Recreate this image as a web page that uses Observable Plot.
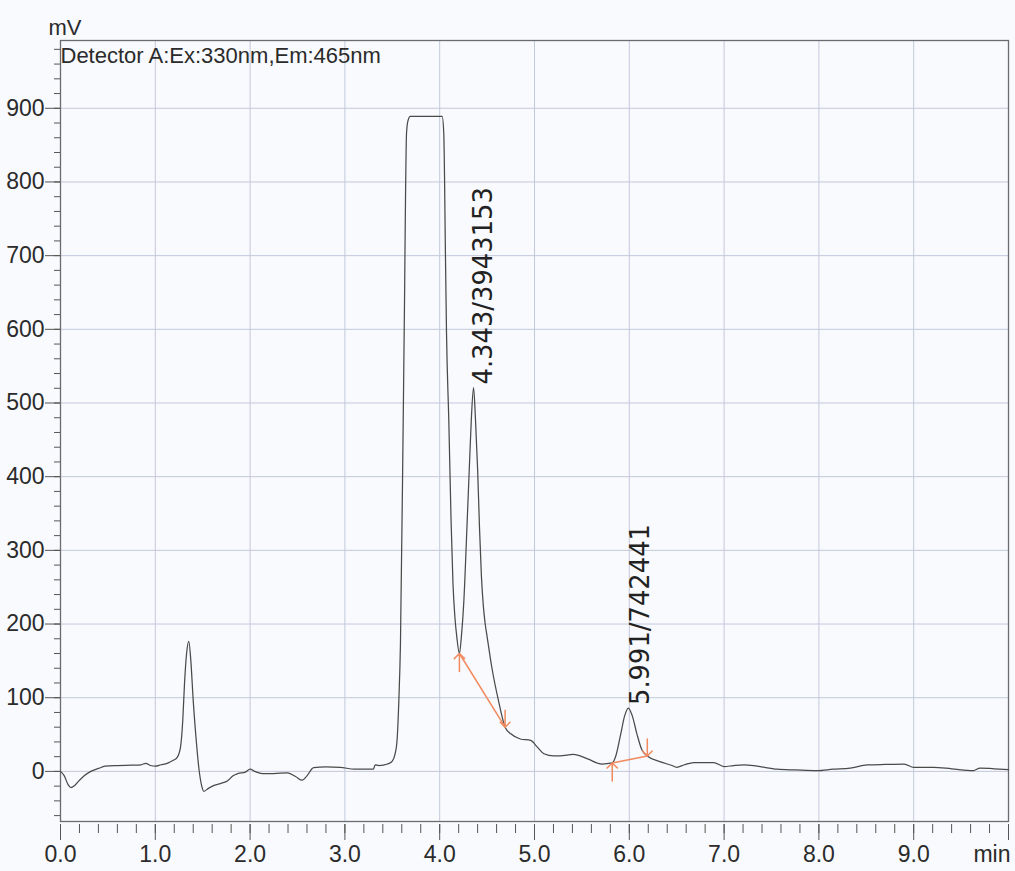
<!DOCTYPE html>
<html><head><meta charset="utf-8">
<script src="https://cdn.jsdelivr.net/npm/d3@7"></script>
<script src="https://cdn.jsdelivr.net/npm/@observablehq/plot@0.6"></script>
<style>
html,body{margin:0;padding:0;background:#f8fafd;}
#chart{width:1015px;height:871px;overflow:hidden;}
#chart svg{display:block;}
</style></head><body><div id="chart"></div>
<script>
// Chromatogram trace (retention time in min, signal in mV)
const time = [
  0.00,0.04,0.08,0.11,0.15,0.20,0.25,0.32,0.40,0.47,0.60,0.75,0.85,0.90,0.95,1.00,1.06,1.125,1.19,1.231,
  1.266,1.29,1.308,1.33,1.353,1.375,1.40,1.43,1.459,1.49,1.512,1.56,1.62,1.70,1.76,1.82,1.87,1.95,2.00,2.05,
  2.13,2.25,2.39,2.48,2.55,2.60,2.67,2.80,2.95,3.10,3.30,3.32,3.36,3.45,3.50,3.53,3.55,3.569,3.586,3.615,
  3.629,3.639,3.65,3.665,3.69,3.85,4.026,4.043,4.061,4.072,4.096,4.12,4.14,4.16,4.18,4.208,4.23,4.255,4.29,4.315,
  4.333,4.357,4.378,4.40,4.42,4.44,4.46,4.48,4.50,4.55,4.62,4.69,4.75,4.85,4.96,5.03,5.10,5.20,5.27,5.41,5.56,
  5.71,5.82,5.86,5.91,5.95,5.99,6.03,6.08,6.13,6.19,6.33,6.45,6.50,6.58,6.68,6.89,7.00,7.10,7.21,7.35,
  7.56,7.75,7.98,8.15,8.33,8.51,8.70,8.90,9.00,9.21,9.40,9.63,9.70,9.85,10.00
];
const signal = [
  0,-6,-18,-22,-19,-12,-6,0,4,7,8,8.5,9,11,8,7,9,11,15,19,
  33,70,119,160,176.5,150,96,45,5,-20,-27,-23,-19,-16,-13,-6,-3,-1,3,0,
  -3,-3,-2,-7,-12,-6,5,6,5.5,3,3,9,8,10,14,24,42,96,173,476,
  639,774,866,883,889,889,889,866,697,594,476,340,255,210,183,160,185,232,340,420,
  476,521,476,410,330,265,225,200,183,141,96,60,51,44,42,33,24,21,21,23,17,
  10,11.5,22,51,75,86,76,51,30,21,13,8,5.5,9,12,12,6.5,8,9,7,
  3,2,1,3,4.6,8.7,9.5,10,5.5,5.5,3.5,1,4.6,3.5,2.5
];

// Integrated peaks
const peakRT = [4.343, 5.991];
const peakHeight = [521, 86];
const peakLabel = ["4.343/3943153", "5.991/742441"];

// Integration baselines (start / end)
const baseStartT = [4.208, 5.82];
const baseStartV = [160, 11.5];
const baseEndT = [4.69, 6.19];
const baseEndV = [60, 21];

// Axes
const xMajorTicks = [0,1,2,3,4,5,6,7,8,9,10];
const xTickLabels = ["0.0","1.0","2.0","3.0","4.0","5.0","6.0","7.0","8.0","9.0",""];
const xMinorTicks = d3.range(0, 10.001, 0.2);
const yMajorTicks = [0,100,200,300,400,500,600,700,800,900];
const yMinorTicks = d3.range(-60, 991, 20);
const xUnit = "min";
const yUnit = "mV";
const detectorText = "Detector A:Ex:330nm,Em:465nm";

const trace = time.map((t, i) => ({t, v: signal[i]}));
const peaks = peakRT.map((t, i) => ({t, v: peakHeight[i], label: peakLabel[i]}));
const bases = baseStartT.map((t, i) => ({t1: t, v1: baseStartV[i], t2: baseEndT[i], v2: baseEndV[i]}));

const axisFont = "'Liberation Sans', Arial, sans-serif";
const orange = "#f2895f";
const axisStroke = "#555";
const gridStroke = "#c3c9dc";

const chart = Plot.plot({
  width: 1015, height: 871,
  marginTop: 40, marginBottom: 50, marginLeft: 60, marginRight: 7,
  x: {domain: [0, 10]},
  y: {domain: [-68, 992]},
  style: {background: "transparent", fontFamily: "'Liberation Sans', Arial, sans-serif", color: "#2b2b2b", overflow: "visible"},
  marks: [
    Plot.gridX(xMajorTicks.slice(1, -1), {stroke: gridStroke, strokeOpacity: 1}),
    Plot.gridY(yMajorTicks, {stroke: gridStroke, strokeOpacity: 1}),
    Plot.axisY(yMinorTicks, {tickSize: 6, tickFormat: () => "", stroke: axisStroke, label: null}),
    Plot.axisY(yMajorTicks, {tickSize: 15, tickPadding: 1, fontSize: 23, fontFamily: axisFont, stroke: axisStroke, fill: "#2b2b2b", label: null}),
    Plot.axisX(xMinorTicks, {tickSize: 9, dy: 3, tickFormat: () => "", stroke: axisStroke, label: null}),
    Plot.axisX(xMajorTicks, {tickSize: 16, dy: 3, tickPadding: 5, tickFormat: d => xTickLabels[xMajorTicks.indexOf(d)], fontSize: 23, fontFamily: axisFont, stroke: axisStroke, fill: "#2b2b2b", label: null}),
    Plot.axisX([10], {tickSize: 0, dy: 3, tickPadding: 21, tickFormat: () => xUnit, textAnchor: "end", dx: 2, fontSize: 23, fontFamily: axisFont, fill: "#2b2b2b", label: null}),
    Plot.frame({stroke: "#6b6b70", strokeWidth: 1.3}),
    Plot.line(trace, {x: "t", y: "v", stroke: "#4a4a4a", strokeWidth: 1.25, curve: "monotone-x"}),
    Plot.link(bases, {x1: "t1", y1: "v1", x2: "t2", y2: "v2", stroke: orange, strokeWidth: 1.5}),
    Plot.vector(bases, {x: "t1", y: "v1", anchor: "end", rotate: 0, length: 18, r: 5, stroke: orange, strokeWidth: 1.5}),
    Plot.vector(bases, {x: "t2", y: "v2", anchor: "end", rotate: 180, length: 17, r: 5, stroke: orange, strokeWidth: 1.5}),
    Plot.text(peaks, {x: "t", y: "v", text: "label", rotate: -90, textAnchor: "start", dx: 12, dy: -3, fontSize: 25.8, fontFamily: "'DejaVu Sans', sans-serif", fill: "#222"}),
    Plot.text([detectorText], {frameAnchor: "top-left", text: d => d, textAnchor: "start", lineAnchor: "top", dx: 0, dy: 7, fontSize: 22, fill: "#2b2b2b"}),
    Plot.text([yUnit], {frameAnchor: "top-left", text: d => d, textAnchor: "start", lineAnchor: "top", dx: -12, dy: -21, fontSize: 22, fill: "#2b2b2b"})
  ]
});
document.getElementById("chart").appendChild(chart);
</script>
</body></html>
